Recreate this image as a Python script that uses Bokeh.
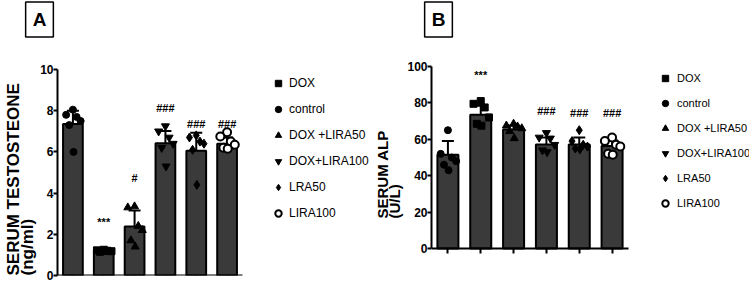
import math
from bokeh.plotting import figure
from bokeh.models import (ColumnDataSource, Whisker, TeeHead, Label, Legend,
                          LegendItem, FixedTicker, Range1d)
from bokeh.layouts import row, column
from bokeh.embed import file_html
from bokeh.resources import INLINE
from bokeh.core.properties import value

# ---------------- data ----------------
groups = ["control", "DOX", "DOX +LIRA50", "DOX+LIRA100", "LRA50", "LIRA100"]
legend_order = ["DOX", "control", "DOX +LIRA50", "DOX+LIRA100", "LRA50", "LIRA100"]

testo_mean = [7.35, 1.20, 2.38, 6.42, 6.05, 6.40]
testo_sd = [0.65, 0.05, 0.78, 0.60, 0.88, 0.30]
testo_points = [
    [8.05, 7.80, 7.70, 7.50, 7.30, 6.00],
    [1.25, 1.22, 1.20, 1.18, 1.15, 1.20],
    [3.35, 3.30, 2.40, 2.20, 1.70, 1.40],
    [7.25, 7.00, 6.70, 6.40, 6.20, 5.30],
    [6.80, 6.70, 6.50, 6.40, 6.10, 4.40],
    [6.95, 6.75, 6.50, 6.35, 6.20, 6.15],
]
testo_marks = ["", "***", "#", "###", "###", "###"]
testo_ticks = [0, 2, 4, 6, 8, 10]

alp_mean = [51.5, 73.5, 65.4, 57.2, 57.2, 56.3]
alp_sd = [7.5, 5.0, 2.2, 3.8, 3.8, 3.0]
alp_points = [
    [65.0, 52.0, 50.0, 48.0, 46.0, 43.0],
    [81.0, 79.5, 77.5, 72.0, 68.5, 67.5],
    [68.5, 67.5, 67.0, 66.0, 64.5, 60.5],
    [63.5, 61.0, 60.5, 57.0, 54.0, 53.0],
    [65.0, 59.0, 57.0, 56.0, 55.0, 54.5],
    [61.0, 59.0, 57.0, 56.0, 52.0, 51.5],
]
alp_marks = ["", "***", "", "###", "###", "###"]
alp_ticks = [0, 20, 40, 60, 80, 100]

# ---------------- styles / layout ----------------
SANS = "Liberation Sans"
BAR_FILL = "#3a3a3a"
marker_style = {
    "control": dict(marker="circle", size=7, fill_color="black"),
    "DOX": dict(marker="square", size=7, fill_color="black"),
    "DOX +LIRA50": dict(marker="triangle", size=8, fill_color="black"),
    "DOX+LIRA100": dict(marker="inverted_triangle", size=8, fill_color="black"),
    "LRA50": dict(marker="diamond", size=9, fill_color="black"),
    "LIRA100": dict(marker="circle", size=8, fill_color="white", line_width=2),
}
jitter = [0.0, -0.22, 0.12, 0.25, -0.12, 0.02]

TOP = 40                # strip with the panel letters (page y 0..40)
H = 282 - TOP           # chart row height
FRAME_TOP = 66          # common frame top (page y) for all figures in the row
FRAME_BOT = 275         # common frame bottom (page y)
BT = FRAME_TOP - TOP
BB = 282 - FRAME_BOT
FH = FRAME_BOT - FRAME_TOP


def blank(w, h, x0, y0, frame_vertical=None):
    """Figure without axes whose data coordinates equal page pixels."""
    if frame_vertical is None:
        yr = Range1d(y0 + h, y0)
        kw = dict(min_border=0)
    else:
        t, b = frame_vertical
        yr = Range1d(b, t)
        kw = dict(min_border_left=0, min_border_right=0,
                  min_border_top=t - y0, min_border_bottom=y0 + h - b,
                  frame_width=w, frame_height=b - t)
    p = figure(width=w, height=h, output_backend="svg", toolbar_location=None,
               x_range=Range1d(x0, x0 + w), y_range=yr,
               x_axis_type=None, y_axis_type=None, **kw)
    p.outline_line_color = None
    p.grid.visible = False
    return p


def make_panel(means, sds, points, marks, mark_y, ticks, fig_w, bl,
               axis_px, y_top_px, y_zero_px, ymax, leg, leg_spacing,
               leg_standoff, leg_font):
    # axis_px: pixels for the 6 category slots; y_top_px / y_zero_px: page y of ymax / 0
    fw = fig_w - bl
    ppu = (y_zero_px - y_top_px) / ymax
    x_end = -0.5 + fw * 6.0 / axis_px
    y_end = ymax + (y_top_px - FRAME_TOP) / ppu
    y_start = -(FRAME_BOT - y_zero_px) / ppu
    p = figure(width=fig_w, height=H, output_backend="svg", toolbar_location=None,
               x_range=Range1d(-0.5, x_end), y_range=Range1d(y_start, y_end),
               min_border_left=bl, min_border_right=0,
               min_border_top=BT, min_border_bottom=BB,
               frame_width=fw, frame_height=FH)
    p.outline_line_color = None
    p.xgrid.visible = False
    p.ygrid.visible = False
    p.background_fill_color = "white"
    p.border_fill_color = "white"

    idx = list(range(len(groups)))
    src = ColumnDataSource(dict(
        x=idx, top=means,
        upper=[m + s for m, s in zip(means, sds)],
        lower=[m - s for m, s in zip(means, sds)]))
    p.vbar(x="x", top="top", bottom=0, width=0.64, source=src,
           fill_color=BAR_FILL, line_color="black", line_width=2)

    renderers = {}
    for i, g in enumerate(groups):
        st = dict(marker_style[g])
        lw = st.pop("line_width", 1)
        r = p.scatter(x=[i + j for j in jitter], y=points[i], line_color="black",
                      line_width=lw, **st)
        renderers[g] = r

    wh = Whisker(base="x", upper="upper", lower="lower", source=src,
                 line_color="black", line_width=2,
                 upper_head=TeeHead(size=12, line_width=2, line_color="black"),
                 lower_head=TeeHead(size=12, line_width=2, line_color="black"))
    p.add_layout(wh)

    mx = [i for i, m in enumerate(marks) if m]
    p.text(x=mx, y=[mark_y[i] for i in mx], text=[marks[i] for i in mx],
           text_font=value(SANS), text_font_style="bold", text_font_size="11px",
           text_align="center", text_baseline="middle", text_color="black")

    p.xaxis.ticker = FixedTicker(ticks=idx)
    p.xaxis.major_label_text_font_size = "0px"
    p.xaxis.major_label_text_color = None
    p.xaxis.major_label_standoff = 0
    p.xaxis.bounds = (-0.5, 5.5)
    p.xaxis.fixed_location = 0
    p.yaxis.ticker = FixedTicker(ticks=ticks)
    p.yaxis.bounds = (0, ymax)
    for ax in (p.xaxis, p.yaxis):
        ax.axis_line_width = 2
        ax.axis_line_color = "black"
        ax.major_tick_line_width = 2
        ax.major_tick_line_color = "black"
        ax.major_tick_out = 5
        ax.major_tick_in = 0
        ax.minor_tick_line_color = None
    p.yaxis.major_tick_out = 4
    p.yaxis.major_label_text_font = SANS
    p.yaxis.major_label_text_font_style = "bold"
    p.yaxis.major_label_text_font_size = "12px"
    p.yaxis.major_label_text_color = "black"
    p.yaxis.major_label_standoff = 0

    items = [LegendItem(label=g, renderers=[renderers[g]]) for g in legend_order]
    legend = Legend(items=items, location=leg, orientation="vertical",
                    glyph_width=16, glyph_height=16, label_height=16,
                    spacing=leg_spacing, padding=0, margin=0,
                    border_line_color=None, background_fill_alpha=0,
                    label_standoff=leg_standoff, label_text_font=SANS,
                    label_text_font_size=leg_font, label_text_color="black")
    p.add_layout(legend)
    return p


# strip with the boxed panel letters
strip = blank(749, TOP, 0, 0)
for letter, cx in (("A", 39), ("B", 438)):
    strip.add_layout(Label(x=cx, y=19, text=letter, text_font=SANS,
                           text_font_style="bold", text_font_size="19px",
                           text_align="center", text_baseline="middle",
                           text_color="black", border_line_color="black",
                           border_line_width=1.5, background_fill_color="white",
                           padding=7))

# y-axis titles (two lines each, rotated)
labA = blank(37, H, 0, TOP, (FRAME_TOP, FRAME_BOT))
for txt, cx in (("SERUM TESTOSTEONE", 13.0), ("(ng/ml)", 26.5)):
    labA.add_layout(Label(x=cx, y=275, text=txt, angle=math.pi / 2,
                          text_font=SANS, text_font_style="bold",
                          text_font_size="17px", text_align="left",
                          text_baseline="middle", text_color="black"))
labB = blank(30, H, 372, TOP, (FRAME_TOP, FRAME_BOT))
for txt, cx in (("SERUM ALP", 379.5), ("(U/L)", 391.5)):
    labB.add_layout(Label(x=cx, y=218, text=txt, angle=math.pi / 2,
                          text_font=SANS, text_font_style="bold",
                          text_font_size="15px", text_align="left",
                          text_baseline="middle", text_color="black"))

pA = make_panel(testo_mean, testo_sd, testo_points, testo_marks,
                [0, 2.6, 4.75, 8.15, 7.35, 7.35], testo_ticks,
                fig_w=335, bl=18, axis_px=185, y_top_px=69, y_zero_px=275,
                ymax=10, leg=(213, 54), leg_spacing=10, leg_standoff=3,
                leg_font="12px")
pB = make_panel(alp_mean, alp_sd, alp_points, alp_marks,
                [0, 95.5, 0, 75.5, 74.5, 74.5], alp_ticks,
                fig_w=347, bl=27, axis_px=197, y_top_px=66, y_zero_px=248,
                ymax=100, leg=(226, 64), leg_spacing=9, leg_standoff=4,
                leg_font="11px")

layout = column(strip, row(labA, pA, labB, pB))
open("out.html", "w").write(file_html(layout, INLINE))
